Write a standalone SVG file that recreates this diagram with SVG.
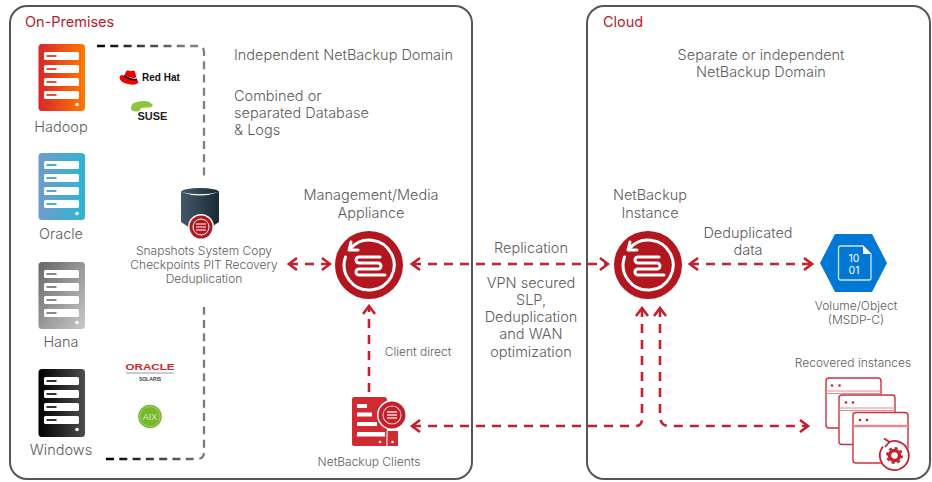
<svg xmlns="http://www.w3.org/2000/svg" width="932" height="482" viewBox="0 0 932 482">
<style>
text{font-family:Inter,"Liberation Sans",sans-serif;font-weight:300;fill:#5c5c5c;text-anchor:middle}
.t{font-size:14.5px}
.s{font-size:12px}
.h{font-size:14.5px;fill:#b5202b;font-weight:400;text-anchor:start}
.panel{fill:#fff;stroke:#565656;stroke-width:2}
.c{fill:none;stroke:#c4202e;stroke-width:2.6;stroke-dasharray:9 7;marker-start:url(#a);marker-end:url(#a)}
.o{fill:none;stroke:#c4202e;stroke-width:2.6;stroke-dasharray:9 7}
.w{fill:none;stroke:#fff;stroke-width:3;stroke-linecap:round;stroke-linejoin:round}
.win{fill:#fff;stroke:#cf2f3c;stroke-width:1.4}
.bar{fill:#fff}
.led{fill:#fff}
.d{fill:none;stroke-width:2.300;stroke-dasharray:8 5.300}
</style>
<defs>
<marker id="a" viewBox="-10 -7 12 14" refX="0" refY="0" markerUnits="userSpaceOnUse" markerWidth="12" markerHeight="14" orient="auto-start-reverse">
<path d="M-8,-6 L0,0 L-8,6" fill="none" stroke="#c4202e" stroke-width="2.6"/>
</marker>
<linearGradient id="gH"><stop offset="0" stop-color="#d9252c"/><stop offset="1" stop-color="#ff7a00"/></linearGradient>
<linearGradient id="gO"><stop offset="0" stop-color="#6f9ccb"/><stop offset="1" stop-color="#2fb4d4"/></linearGradient>
<linearGradient id="gA" x1="0" x2="1" y1="0" y2="1"><stop offset="0" stop-color="#666"/><stop offset="1" stop-color="#c9c9c9"/></linearGradient>
<linearGradient id="gW"><stop offset="0" stop-color="#000"/><stop offset="1" stop-color="#4d4d4d"/></linearGradient>
<linearGradient id="gD"><stop offset="0" stop-color="#43586a"/><stop offset="1" stop-color="#1b2a33"/></linearGradient>
<linearGradient id="gL1" gradientUnits="userSpaceOnUse" x1="97" x2="190" y1="0" y2="0"><stop offset="0" stop-color="#000"/><stop offset="1" stop-color="#808080"/></linearGradient>
<linearGradient id="gL2" gradientUnits="userSpaceOnUse" x1="106" x2="204" y1="0" y2="0"><stop offset="0" stop-color="#000"/><stop offset="1" stop-color="#7a7a7a"/></linearGradient>
<g id="rack">
<rect class="bar" x="5.5" y="8" width="35" height="8" rx="1.5"/>
<rect class="bar" x="5.5" y="21" width="35" height="8" rx="1.5"/>
<rect class="bar" x="5.5" y="34" width="35" height="8" rx="1.5"/>
<rect class="bar" x="5.5" y="47" width="35" height="8" rx="1.5"/>
<circle class="led" cx="38.500" cy="60.500" r="1.800"/>
</g>
<g id="logo">
<circle r="34" fill="#b2171f"/>
<path class="w" d="M-19,-16 A25,25 0 1 1 -23.500,-8"/>
<path class="w" d="M-18,-23 L-20,-15 L-11,-15"/>
<path class="w" d="M11,-8 H-10 A3,3 0 0 0 -10,-2 H9 A3,3 0 0 1 9,4 H-10 A3,3 0 0 0 -10,10 H16"/>
</g>
</defs>

<rect id="panel-onprem" class="panel" x="10" y="6" width="462" height="473" rx="17"/>
<rect id="panel-cloud" class="panel" x="587" y="6" width="343" height="473" rx="17"/>
<text class="h" x="25" y="27">On-Premises</text>
<text class="h" x="603" y="27">Cloud</text>

<g id="connectors">
<path class="c" d="M289,264 H330"/>
<path class="c" d="M412,264 H608"/>
<path class="c" d="M690,264 H812"/>
<path class="o" d="M369,392 V306" marker-end="url(#a)"/>
<path class="o" d="M412,426 H635 Q642,426 642,419 V308" marker-start="url(#a)" marker-end="url(#a)"/>
<path class="o" d="M660,308 V416 Q660,426 670,426 H808" marker-start="url(#a)" marker-end="url(#a)"/>
<path class="d" d="M97,46 H198 Q204,46 204,52 V180" stroke="url(#gL1)"/>
<path class="d" d="M106,459 H197 Q204,459 204,452 V307" stroke="url(#gL2)"/>
</g>

<g id="node-hadoop"><g transform="translate(38.500,44)"><rect width="46.500" height="67" rx="3.500" fill="url(#gH)"/><use href="#rack"/><path d="M8,12H18M8,25H18M8,38H18M8,51H18" stroke="#e8502a" stroke-width="2"/></g><text class="t" x="61" y="132">Hadoop</text></g>
<g id="node-oracle"><g transform="translate(38.500,153)"><rect width="46.500" height="67" rx="3.500" fill="url(#gO)"/><use href="#rack"/><path d="M8,12H18M8,25H18M8,38H18M8,51H18" stroke="#55a8d2" stroke-width="2"/></g><text class="t" x="61" y="239">Oracle</text></g>
<g id="node-hana"><g transform="translate(38.500,262)"><rect width="46.500" height="67" rx="3.500" fill="url(#gA)"/><use href="#rack"/><path d="M8,12H18M8,25H18M8,38H18M8,51H18" stroke="#888" stroke-width="2"/></g><text class="t" x="61" y="347">Hana</text></g>
<g id="node-windows"><g transform="translate(38.500,369)"><rect width="46.500" height="68" rx="3.500" fill="url(#gW)"/><use href="#rack"/><path d="M8,12H18M8,25H18M8,38H18M8,51H18" stroke="#333" stroke-width="2"/></g><text class="t" x="61" y="455">Windows</text></g>

<g id="logo-redhat">
<path d="M124.500,75 L126,71.500 Q127,69.800 129.500,70.800 Q131,71.300 132.500,70.800 Q134.500,70 135,72 L136.500,77.500 Q130,79 124.500,75Z" fill="#e00"/>
<path d="M121.500,75 Q118.500,76.500 120,79.500 Q122,82.500 128,84 Q135,85.500 137.500,83.500 Q139,81.500 137,79.500 Q129,80.500 124,76 Q123,75 121.500,75Z" fill="#e00"/>
<path d="M124,75.500 Q130,80 137,79.500" fill="none" stroke="#111" stroke-width="1.800"/>
<text x="142" y="81" style="font-size:10px;font-weight:700;fill:#111;text-anchor:start;font-family:'Liberation Sans',sans-serif">Red Hat</text>
</g>
<g id="logo-suse">
<path d="M131,108 Q131,103 137,102 Q145,100 150,102.500 L153,105 Q152,108 146,107.500 L141,108 Q140,112 136,111.500 Q131,111.500 131,108Z" fill="#8dc63f"/>
<text x="137.500" y="120" style="font-size:11px;font-weight:700;fill:#222;text-anchor:start;font-family:'Liberation Sans',sans-serif">SUSE</text>
</g>
<g id="logo-solaris">
<text x="150" y="370" style="font-size:9.500px;font-weight:700;fill:#d3232a;font-family:'Liberation Sans',sans-serif" textLength="49" lengthAdjust="spacingAndGlyphs">ORACLE</text>
<path d="M126,373 H174" stroke="#999" stroke-width="1"/>
<text x="150" y="380.500" style="font-size:5px;font-weight:700;fill:#444;font-family:'Liberation Sans',sans-serif">SOLARIS</text>
</g>
<g id="logo-aix">
<circle cx="150" cy="416.500" r="11.800" fill="#76b82a"/>
<circle cx="150" cy="416.500" r="10" fill="none" stroke="#b7d989" stroke-width="0.700"/>
<text x="150" y="420" style="font-size:9px;font-weight:400;fill:#dfeec6;font-family:'Liberation Sans',sans-serif">AIX</text>
</g>

<g id="node-database">
<path d="M181,192 V222 L190,228 H210 L219,222 V192Z" fill="url(#gD)"/>
<ellipse cx="200" cy="192" rx="19" ry="4" fill="url(#gD)"/>
<path d="M181,192 Q200,199 219,192 Q200,196.500 181,192Z" fill="#fff"/>
<circle cx="201" cy="227" r="13" fill="#fff"/>
<circle cx="201" cy="227" r="11.500" fill="#b2171f"/>
<circle cx="201" cy="227" r="8" fill="none" stroke="#fff" stroke-width="1"/>
<path d="M196,224H206M196,227H206M196,230H206" stroke="#fff" stroke-width="1.200"/>
<text class="s" x="204" y="255">Snapshots System Copy</text>
<text class="s" x="204" y="269">Checkpoints PIT Recovery</text>
<text class="s" x="204" y="283">Deduplication</text>
</g>

<g id="text-domain">
<text class="t" x="234" y="60" style="text-anchor:start">Independent NetBackup Domain</text>
<text class="t" x="234" y="101" style="text-anchor:start">Combined or</text>
<text class="t" x="234" y="118" style="text-anchor:start">separated Database</text>
<text class="t" x="234" y="135" style="text-anchor:start">&amp; Logs</text>
</g>

<g id="node-appliance">
<text class="t" x="371" y="200">Management/Media</text>
<text class="t" x="371" y="218">Appliance</text>
<use href="#logo" x="369" y="265"/>
</g>

<g id="node-instance">
<text class="t" x="650" y="200">NetBackup</text>
<text class="t" x="650" y="218">Instance</text>
<use href="#logo" x="648" y="265"/>
</g>

<g id="labels">
<text class="t" x="531" y="253">Replication</text>
<text class="t" x="531" y="288">VPN secured</text>
<text class="t" x="531" y="305">SLP,</text>
<text class="t" x="531" y="322">Deduplication</text>
<text class="t" x="531" y="339">and WAN</text>
<text class="t" x="531" y="357">optimization</text>
<text class="s" x="418" y="356">Client direct</text>
<text class="t" x="748" y="238">Deduplicated</text>
<text class="t" x="748" y="255">data</text>
<text class="t" x="761" y="60">Separate or independent</text>
<text class="t" x="761" y="77">NetBackup Domain</text>
</g>

<g id="node-volume">
<path d="M835,234 H872 L887,263 L872,292 H835 L820,263Z" fill="#0078d4"/>
<path d="M841,246 H863 L871,254 V278 Q871,280 869,280 H841 Q838.500,280 838.500,278 V248 Q838.500,246 841,246Z" fill="none" stroke="#cfe4f7" stroke-width="1.300"/>
<path d="M863,246 L871,254 H863Z" fill="#fff"/>
<text x="854" y="262" style="font-size:10.500px;font-weight:400;fill:#fff">10</text>
<text x="854" y="274" style="font-size:10.500px;font-weight:400;fill:#fff">01</text>
<text class="s" x="856" y="309.500">Volume/Object</text>
<text class="s" x="856" y="323.500">(MSDP-C)</text>
</g>

<g id="node-recovered">
<text class="s" x="853" y="367">Recovered instances</text>
<rect class="win" x="826" y="378" width="55" height="50" rx="3"/>
<path d="M826,391H881M826,393.500H881" stroke="#e58a91" stroke-width="1"/>
<circle cx="832" cy="385.500" r="1.300" fill="#c4202e"/><circle cx="839.500" cy="385.500" r="1.300" fill="#c4202e"/>
<rect class="win" x="839" y="395" width="56" height="49.500" rx="3"/>
<path d="M839,408H895M839,410.500H895" stroke="#e58a91" stroke-width="1"/>
<circle cx="846" cy="402.500" r="1.300" fill="#c4202e"/><circle cx="853" cy="402.500" r="1.300" fill="#c4202e"/>
<rect class="win" x="853" y="412.500" width="55" height="50.500" rx="3"/>
<path d="M853,426H908" stroke="#e58a91" stroke-width="2.500"/>
<circle cx="860" cy="420" r="1.300" fill="#c4202e"/><circle cx="867" cy="420" r="1.300" fill="#c4202e"/>
<circle cx="894.500" cy="455.500" r="15.500" fill="#fff"/>
<path d="M888,442.500 A14.500,14.500 0 1 1 883,446.500" fill="none" stroke="#c4202e" stroke-width="1.800"/>
<path d="M884,438.500 L889.500,442 L885,447" fill="none" stroke="#c4202e" stroke-width="1.800"/>
<circle cx="894.500" cy="455.500" r="5" fill="none" stroke="#c4202e" stroke-width="3.500"/>
<circle cx="894.500" cy="455.500" r="7.500" fill="none" stroke="#c4202e" stroke-width="2" stroke-dasharray="3 2.890"/>
</g>

<g id="node-clients">
<path d="M354,397 H384 Q387,397 387,400 V431 H398 V446 H354 Q352,446 352,444 V399 Q352,397 354,397Z" fill="#d02a33"/>
<rect x="357" y="404" width="10" height="4" fill="#fff"/>
<rect x="357" y="412.500" width="15" height="4" fill="#fff"/>
<rect x="357" y="422" width="20" height="4" fill="#fff"/>
<rect x="357" y="432" width="28" height="4.500" fill="#fff"/>
<path d="M387,431 V446" stroke="#fff" stroke-width="1"/>
<circle cx="392.500" cy="442" r="1.300" fill="#fff"/>
<circle cx="380" cy="442" r="1.300" fill="#fff"/>
<circle cx="392" cy="415" r="15" fill="#fff"/>
<circle cx="392" cy="415" r="13.500" fill="#c3202b"/>
<circle cx="392" cy="415" r="9" fill="none" stroke="#f2c5c8" stroke-width="1.100"/>
<path d="M387,412H397M387,415H397M387,418H397" stroke="#f5d5d7" stroke-width="1.500"/>
<text class="s" x="369" y="466">NetBackup Clients</text>
</g>
</svg>
